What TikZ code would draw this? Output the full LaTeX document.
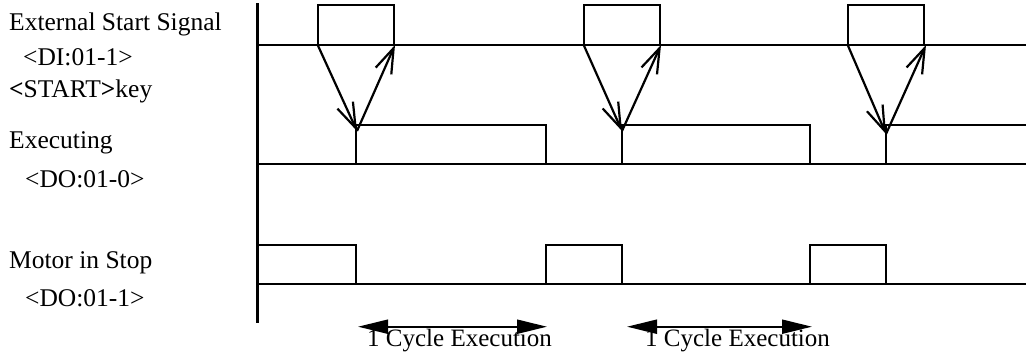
\documentclass[tikz,border=0pt]{standalone}
\usepackage{fontspec}
\setmainfont{Liberation Serif}
\usetikzlibrary{arrows.meta}
\begin{document}
\begin{tikzpicture}[x=1pt,y=-1pt,
  wave/.style={line width=2.2pt, line join=miter},
  lbl/.style={anchor=base west, inner sep=0pt, font=\fontsize{25.5}{30}\selectfont},
  cyclbl/.style={anchor=base west, inner sep=0pt, font=\fontsize{25}{30}\selectfont},
  handshake/.style={line width=2.2pt, -{Straight Barb[length=25pt,width=17pt]}},
  span/.style={line width=2.2pt, {Triangle[length=30pt,width=14pt]}-{Triangle[length=30pt,width=14pt]}}]
\useasboundingbox (0,0) rectangle (1026,354);

% signal names
\node[lbl] (extsig)  at (9,30)   {External Start Signal};
\node[lbl] (di)      at (23,65)  {<DI:01-1>};
\node[lbl] (startkey) at (9,97)  {\textbf{<}START\textbf{>}key};
\node[lbl] (exec)    at (9,148)  {Executing};
\node[lbl] (do0)     at (25,187) {<DO:01-0>};
\node[lbl] (motor)   at (9,268)  {Motor in Stop};
\node[lbl] (do1)     at (25,306) {<DO:01-1>};

% time axis
\coordinate (axtop) at (257.5,3);
\coordinate (axbot) at (257.5,323);
\draw[wave] (axtop) -- (axbot);

% start signal: three pulses
\draw[wave] (257.5,45) -- (1026,45);
\draw[wave] (317.7,45) rectangle (394,5);
\draw[wave] (583.7,45) rectangle (660,5);
\draw[wave] (847.7,45) rectangle (924,5);
\coordinate (s1r) at (317.7,45); \coordinate (s1f) at (395,45);
\coordinate (s2r) at (583.7,45); \coordinate (s2f) at (661,45);
\coordinate (s3r) at (847.7,45); \coordinate (s3f) at (926,45);

% executing output
\draw[wave] (257.5,164) -- (1026,164);
\draw[wave] (356,164) rectangle (546,125);
\draw[wave] (621.7,164) rectangle (810,125);
\draw[wave] (886,164) -- (886,125) -- (1030,125);
\coordinate (x1) at (357,131);
\coordinate (x2) at (622,131);
\coordinate (x3) at (886,134);

% start -> executing -> release
\draw[handshake] (s1r) -- (x1);
\draw[handshake] (x1) -- (s1f);
\draw[handshake] (s2r) -- (x2);
\draw[handshake] (x2) -- (s2f);
\draw[handshake] (s3r) -- (x3);
\draw[handshake] (x3) -- (s3f);

% motor in stop output
\draw[wave] (257.5,284.3) -- (1026,284.3);
\draw[wave] (257.5,284.3) rectangle (356,245);
\draw[wave] (546,284.3) rectangle (621.7,245);
\draw[wave] (810,284.3) rectangle (886,245);

% cycle spans
\coordinate (c1l) at (358,326.7); \coordinate (c1r) at (547,326.7);
\coordinate (c2l) at (627,326.7); \coordinate (c2r) at (812,326.7);
\draw[span] (c1l) -- (c1r);
\draw[span] (c2l) -- (c2r);
\node[cyclbl] (cyc1) at (367,346.5) {1 Cycle Execution};
\node[cyclbl] (cyc2) at (645,346.5) {1 Cycle Execution};
\end{tikzpicture}
\end{document}
